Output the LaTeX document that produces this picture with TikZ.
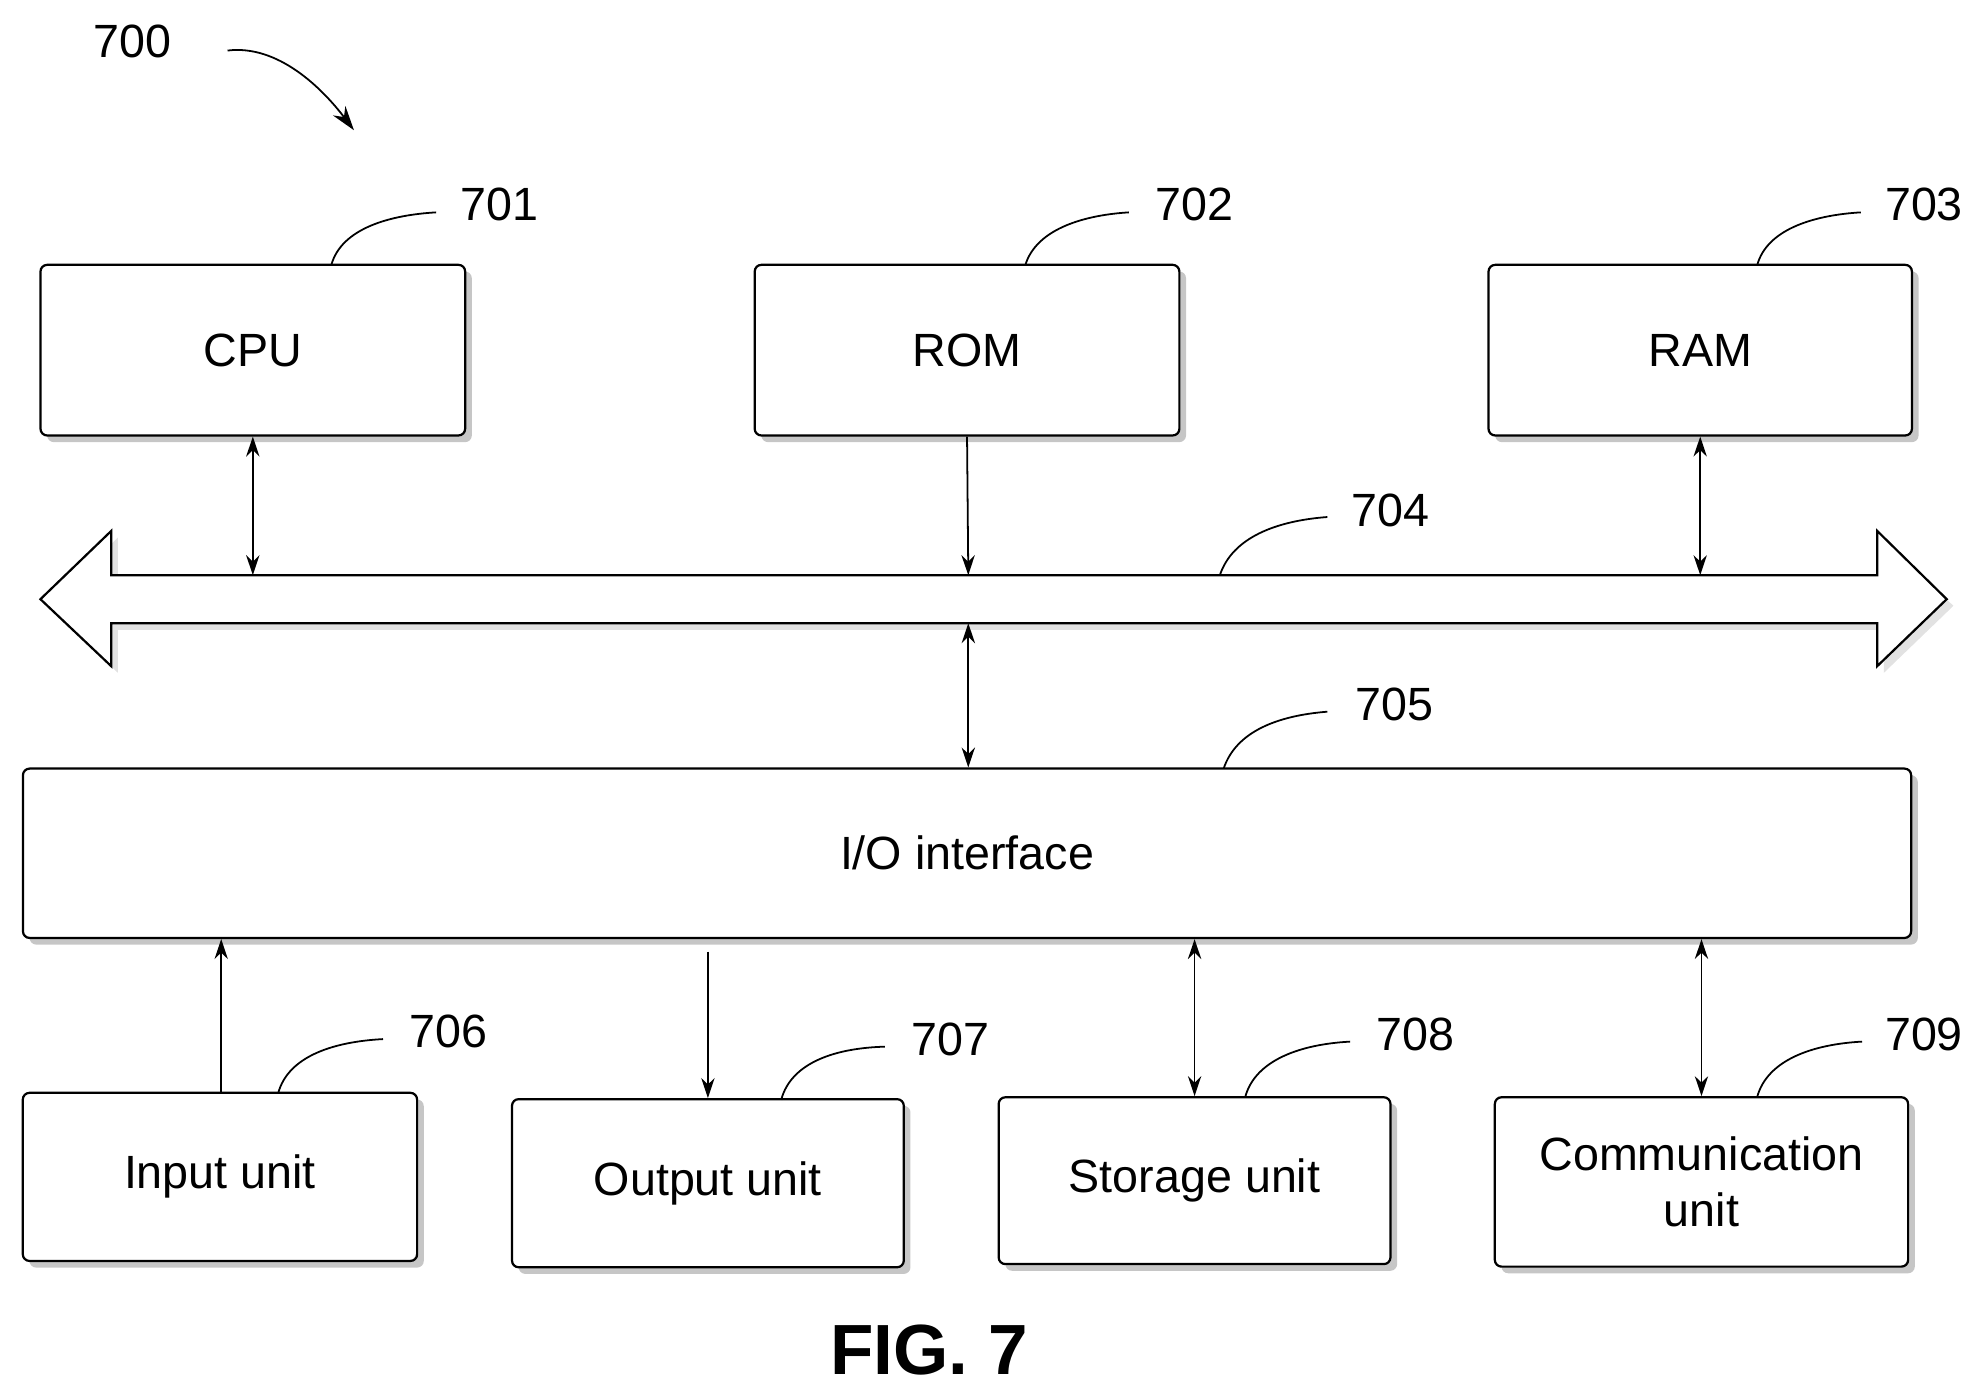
\documentclass[tikz,border=0pt]{standalone}
\usepackage{fontspec}
\setmainfont{Liberation Sans}
\usetikzlibrary{arrows.meta,shadows}
\tikzset{
  box/.style={draw, line width=1pt, rounded corners=3pt, fill=white,
    drop shadow={shadow xshift=3pt, shadow yshift=-3pt, fill=gray!45, opacity=1},
    font=\fontsize{21}{25}\selectfont, align=center, inner sep=0pt},
  num/.style={font=\fontsize{21}{25}\selectfont},
  lead/.style={line width=0.8pt},
  link/.style={line width=0.8pt, -{Stealth[length=9pt,width=6pt]}},
  dlink/.style={line width=0.8pt, {Stealth[length=9pt,width=6pt]}-{Stealth[length=9pt,width=6pt]}}
}
\begin{document}
\begin{tikzpicture}[x=0.02cm, y=-0.02cm]
  \useasboundingbox (0,0) rectangle (1560,1102);
  % top row
  \node[box, minimum width=6.72cm, minimum height=2.7cm] (cpu) at (200,277) {CPU};
  \node[box, minimum width=6.72cm, minimum height=2.7cm] (rom) at (765,277) {ROM};
  \node[box, minimum width=6.7cm, minimum height=2.7cm] (ram) at (1345,277) {RAM};
  % bus
  \draw[line width=1pt, fill=white, drop shadow={shadow xshift=3pt, shadow yshift=-3pt, fill=gray!45}]
    (32,474) -- (88,420) -- (88,455) -- (1485,455) -- (1485,420) -- (1540,474)
    -- (1485,527) -- (1485,493) -- (88,493) -- (88,527) -- cycle;
  \coordinate (cpub) at (200,455);
  \coordinate (romb) at (766,455);
  \coordinate (ramb) at (1345,455);
  \coordinate (iob) at (766,493);
  \coordinate (busl) at (965,455);
  % I/O
  \node[box, minimum width=29.88cm, minimum height=2.68cm] (io) at (765,675) {I/O interface};
  % bottom row
  \node[box, minimum width=6.24cm, minimum height=2.66cm] (in) at (174,931) {Input unit};
  \node[box, minimum width=6.2cm, minimum height=2.66cm] (out) at (560,936) {Output unit};
  \node[box, minimum width=6.2cm, minimum height=2.64cm] (sto) at (945,934) {Storage unit};
  \node[box, minimum width=6.54cm, minimum height=2.68cm] (com) at (1346,935) {Communication\\unit};
  % links
  \draw[dlink] (cpub) -- (cpub |- cpu.south);
  \draw[link] (rom.south) -- (romb);
  \draw[dlink] (ramb) -- (ramb |- ram.south);
  \draw[dlink] (iob) -- (iob |- io.north);
  \draw[link] (in.north -| 175,0) -- (175,0 |- io.south);
  \draw[link] (560,0 |- io.south) ++(0,10) -- (out.north);
  \draw[dlink] (945,0 |- io.south) -- (945,0 |- sto.north);
  \draw[dlink] (1346,0 |- io.south) -- (com.north);
  % labels
  \node[num] (n700) at (105,33) {700};
  \node[num] (n701) at (395,162) {701};
  \node[num] (n702) at (945,162) {702};
  \node[num] (n703) at (1522,162) {703};
  \node[num] (n704) at (1100,404) {704};
  \node[num] (n705) at (1103,557) {705};
  \node[num] (n706) at (355,816) {706};
  \node[num] (n707) at (752,822) {707};
  \node[num] (n708) at (1120,818) {708};
  \node[num] (n709) at (1522,818) {709};
  \draw[lead, -{Stealth[length=11pt,width=7pt]}] (180,40) .. controls (220,35) and (255,70) .. (280,103);
  \draw[lead] (262,210) .. controls (270,180) and (310,170) .. (345,168);
  \draw[lead] (811,210) .. controls (820,180) and (860,170) .. (893,168);
  \draw[lead] (1390,210) .. controls (1398,180) and (1438,170) .. (1472,168);
  \draw[lead] (busl) .. controls (975,425) and (1010,412) .. (1050,409);
  \draw[lead] (968,608) .. controls (978,578) and (1012,566) .. (1050,563);
  \draw[lead] (220,865) .. controls (228,835) and (265,824) .. (303,822);
  \draw[lead] (618,870) .. controls (626,840) and (662,829) .. (700,828);
  \draw[lead] (985,868) .. controls (993,838) and (1030,826) .. (1068,824);
  \draw[lead] (1390,868) .. controls (1398,838) and (1435,826) .. (1473,824);
  \node[font=\bfseries\fontsize{32}{38}\selectfont] (fig) at (735,1068) {FIG. 7};
\end{tikzpicture}
\end{document}
